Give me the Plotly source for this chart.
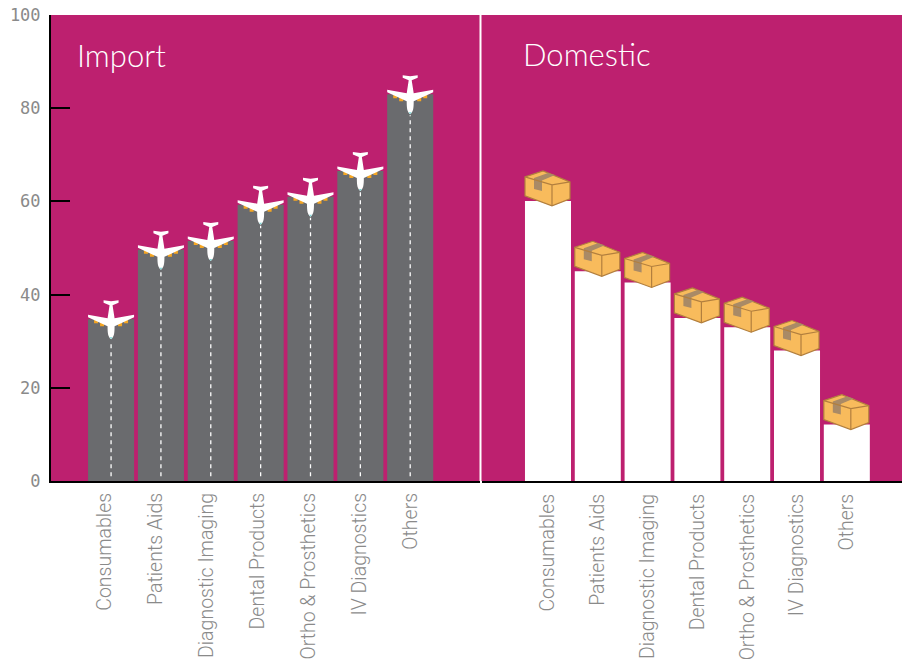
import plotly.graph_objects as go

categories = ["Consumables", "Patients Aids", "Diagnostic Imaging", "Dental Products",
              "Ortho &amp; Prosthetics", "IV Diagnostics", "Others"]
import_values = [34.7, 49.6, 51.5, 59.3, 61, 66.5, 83]
domestic_values = [60.1, 45, 42.6, 35, 33, 28, 12.1]
y_ticks = [0, 20, 40, 60, 80, 100]

PINK = "#bd206f"
GRAY = "#6a6b6e"
LABEL = "#8a8a8a"
X_FONT = dict(family="Roboto", size=19.5, color=LABEL, weight=300)

fig = go.Figure()
fig.add_bar(x=categories, y=import_values, marker=dict(color=GRAY, line_width=0), xaxis="x", yaxis="y")
fig.add_bar(x=categories, y=domestic_values, marker=dict(color="white", line_width=0), xaxis="x2", yaxis="y")
# invisible copy that carries the import tick labels, which are spaced wider than the bars
fig.add_bar(x=categories, y=import_values, marker=dict(color="rgba(0,0,0,0)", line_width=0),
            xaxis="x3", yaxis="y", hoverinfo="skip")

shapes = []
def icon(xref, cat, val, path, fill, line="rgba(0,0,0,0)", w=0):
    shapes.append(dict(type="path", xref=xref, yref="y", xsizemode="pixel", ysizemode="pixel",
                       xanchor=cat, yanchor=val, path=path, fillcolor=fill,
                       line=dict(color=line, width=w), layer="above"))

PLANE_BODY = ("M0,-20 C-3,-18 -3.5,-14 -3.5,-7 L-23,2 L-23,4.5 L-3.5,1 L-1.5,14 L-7.5,16.5 L-7.5,19 "
              "L0,18 L7.5,19 L7.5,16.5 L1.5,14 L3.5,1 L23,4.5 L23,2 L3.5,-7 C3.5,-14 3,-18 0,-20 Z")
ENGINES = ("M-17,1 L-13,1 L-13,-4 L-17,-4 Z M-11,-2 L-7,-2 L-7,-7 L-11,-7 Z "
           "M17,1 L13,1 L13,-4 L17,-4 Z M11,-2 L7,-2 L7,-7 L11,-7 Z")
for c, v in zip(categories, import_values):
    shapes.append(dict(type="line", xref="x", yref="y", x0=c, x1=c, y0=1, y1=v - 4.5,
                       line=dict(color="white", width=1.3, dash="4px,4px"), layer="above"))
    icon("x", c, v, ENGINES, "#f5a623")
    icon("x", c, v, PLANE_BODY, "white")
    icon("x", c, v, "M-1.5,-18 L1.5,-18 L0,-20 Z", "#7fd6d6")

BOX = "M-23,24 L-5,30 L22,19 L22,2 L4,-5 L-23,5 Z"
EDGES = "M-23,24 L4,16 L22,19 M4,16 L4,-5"
TAPE = "M-14,23 L0,28 L7,26 L-6,20.5 L-6,10 L-14,12 Z"
for c, v in zip(categories, domestic_values):
    icon("x2", c, v, BOX, "#f8bb5c", "#b27f3e", 1.2)
    icon("x2", c, v, TAPE, "#a98a66")
    icon("x2", c, v, EDGES, "rgba(0,0,0,0)", "#b27f3e", 1.2)

titles = [dict(text="Import", x=75, y=55), dict(text="Domestic", x=521, y=54)]
annotations = [dict(text=t["text"], xref="paper", yref="paper",
                    x=(t["x"] - 51) / 851, y=1 - (t["y"] - 15) / 466,
                    xanchor="left", yanchor="middle", showarrow=False,
                    font=dict(family="Lato", size=31, color="white", weight=300)) for t in titles]

common_x = dict(type="category", categoryorder="array", categoryarray=categories, showgrid=False,
                ticks="", tickangle=-90, tickfont=X_FONT, showline=True, linecolor="black", linewidth=2,
                ticklabelstandoff=3, anchor="y", automargin=False)
left_domain = [0, 428.5 / 851]

fig.update_layout(
    width=902, height=662, autosize=False, showlegend=False,
    margin=dict(l=51, r=0, t=15, b=181), paper_bgcolor="white", plot_bgcolor=PINK,
    bargap=0.076, shapes=shapes, annotations=annotations,
    xaxis=dict(common_x, domain=left_domain, range=[-1.205, 7.39], showticklabels=False),
    xaxis2=dict(common_x, domain=[430.5 / 851, 1], range=[-1.335, 7.108]),
    xaxis3=dict(common_x, domain=left_domain, range=[-1.059, 7.343], overlaying="x", showline=False,
                ticklabelstandoff=7),
    yaxis=dict(range=[0, 100], tickvals=y_ticks, showgrid=False, zeroline=False, automargin=False,
               ticks="inside", ticklen=19, tickwidth=2, tickcolor="black",
               showline=True, linecolor="black", linewidth=2, ticklabelstandoff=5,
               tickfont=dict(family="DejaVu Sans Mono", size=17, color=LABEL)),
)
fig.write_html("out.html", config=dict(displayModeBar=False),
               default_width="902px", default_height="662px",
               post_script="document.body.style.margin='0';")
